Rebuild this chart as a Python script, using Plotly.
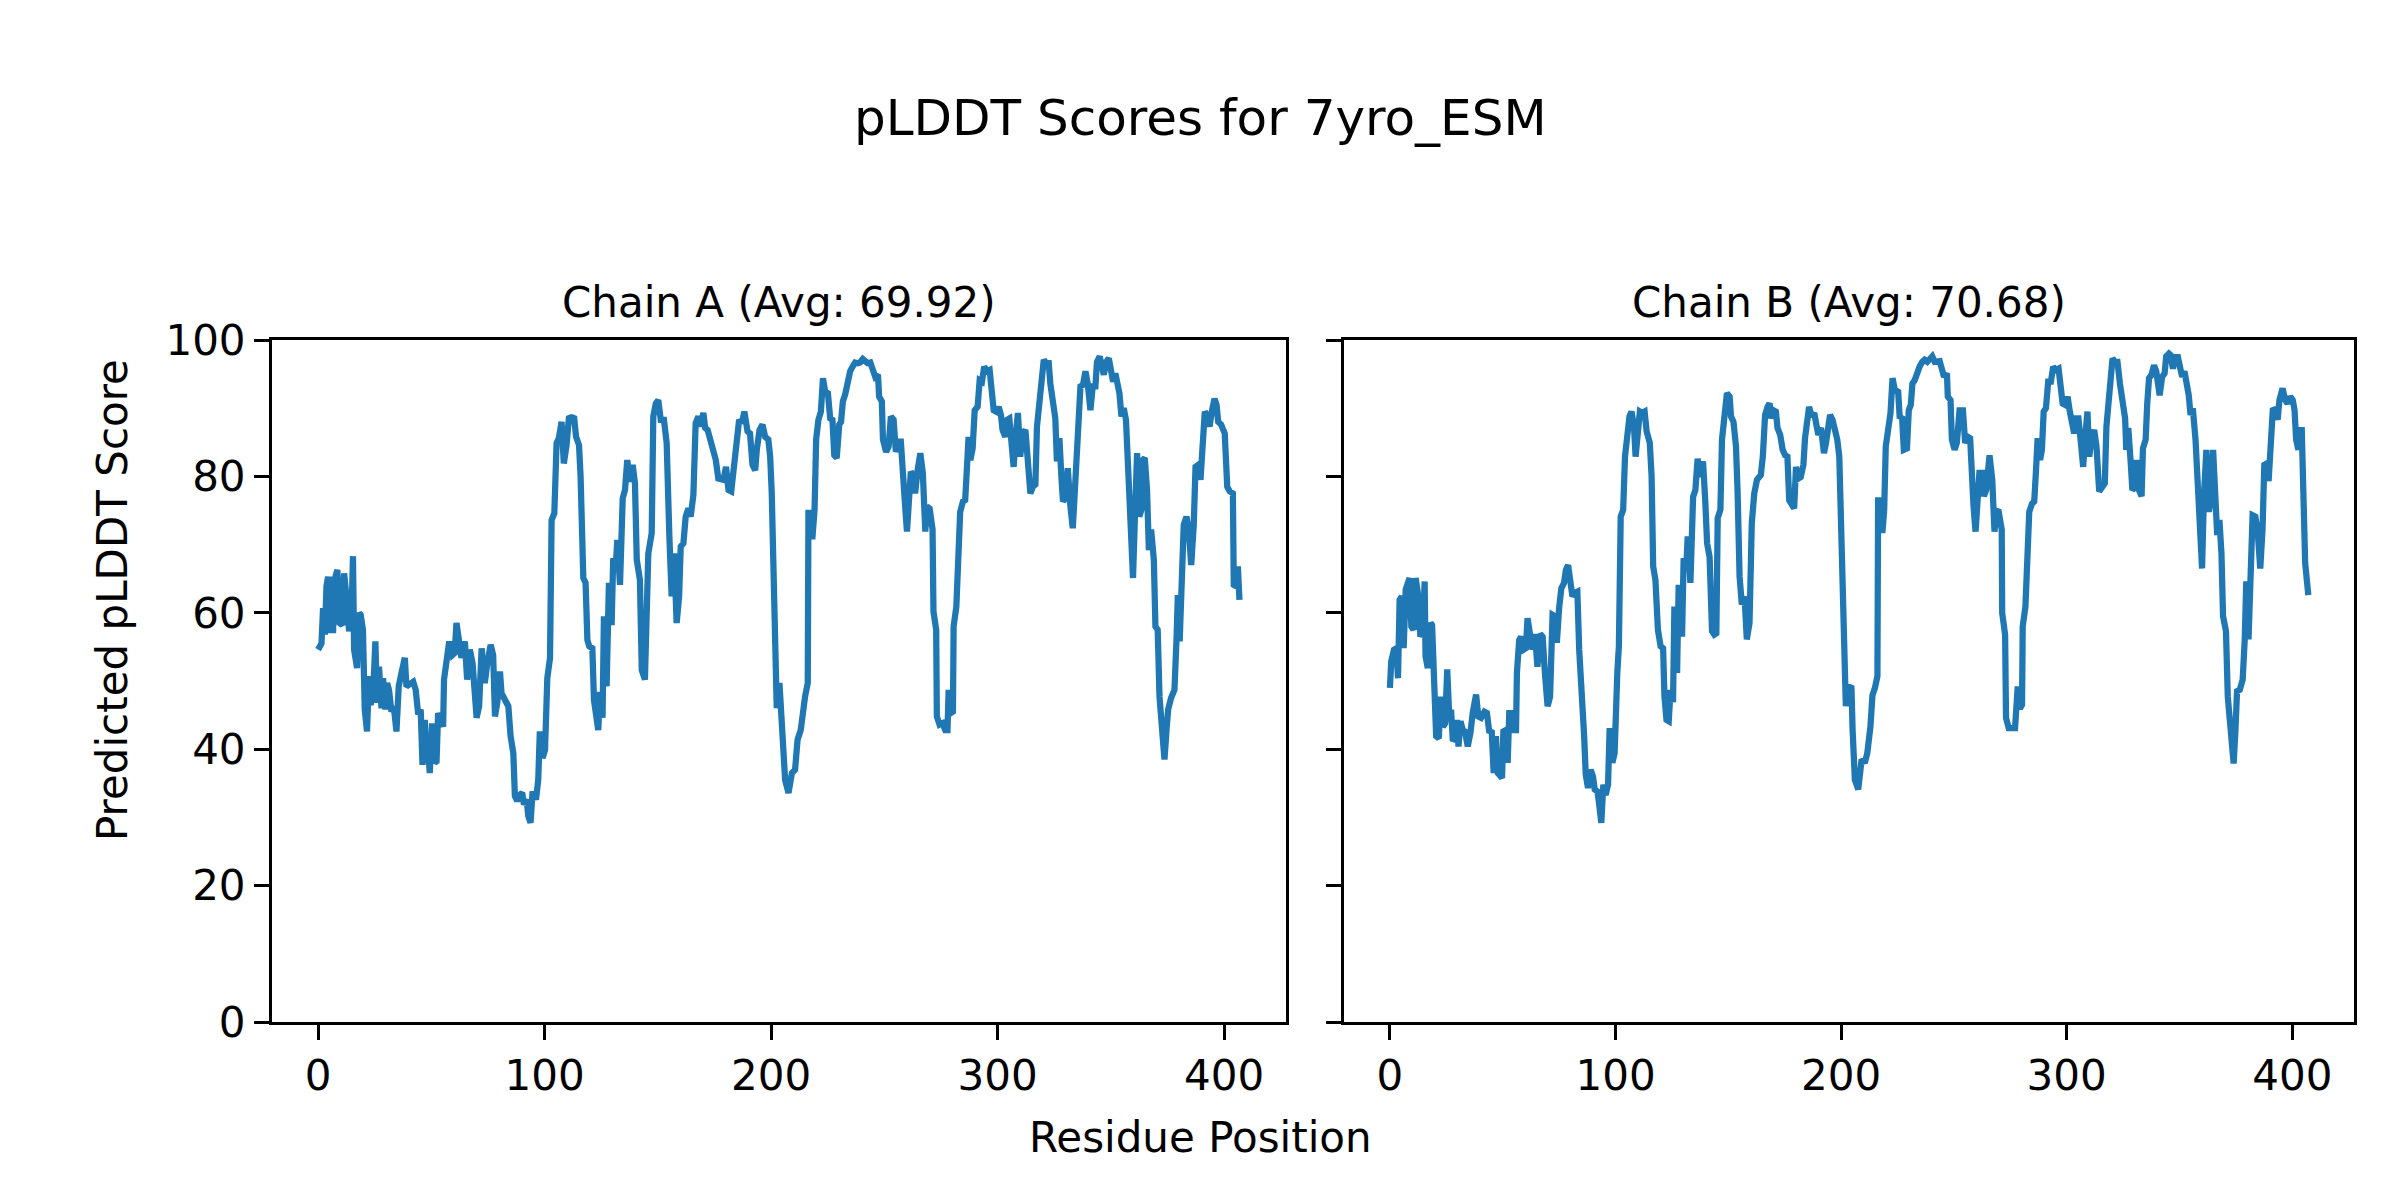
import plotly.graph_objects as go

# ---------------- data ----------------
chain_a_pos = [
    0.0, 1.5, 2.2, 3.0, 3.7, 4.4, 5.1, 5.9, 6.6, 7.3,
    8.5, 9.5, 10.7, 11.5, 12.5, 13.7, 14.7, 15.4, 15.9, 17.2,
    18.1, 18.8, 19.8, 20.6, 21.6, 22.5, 23.2, 24.3, 25.3, 26.0,
    26.9, 28.0, 28.7, 29.7, 30.5, 31.3, 32.4, 33.4, 34.6, 35.6,
    36.8, 38.3, 39.0, 40.5, 42.0, 43.1, 44.2, 45.3, 46.1, 47.1,
    47.8, 48.6, 49.3, 50.3, 51.5, 52.3, 53.0, 54.0, 55.2, 55.6,
    56.7, 57.9, 59.3, 60.3, 61.1, 62.3,
    63.3, 64.8, 65.8, 67.0, 68.2, 70.0, 71.1, 72.2, 73.6, 74.7,
    76.2, 77.3, 78.1, 79.1, 80.3, 81.0, 82.5, 84.0, 85.0, 86.2,
    86.9, 87.9, 89.1, 90.1, 90.9, 92.1, 92.8, 93.8, 94.7, 96.2,
    97.2, 97.9, 99.1, 100.2, 101.2, 102.4, 103.1, 104.3, 105.3, 106.3,
    107.5, 108.5, 109.7, 110.8, 111.9, 113.0, 113.9, 115.2, 115.9, 117.1,
    118.1, 118.9, 119.7, 121.1, 121.8, 122.7, 123.7, 124.5, 125.6, 126.2,
    127.4, 128.4, 129.6, 130.3, 131.5, 132.1,
    133.3, 134.5, 135.5, 136.5, 137.7, 138.9, 139.9, 140.7, 142.1, 142.9,
    144.3, 145.8, 147.3, 148.0, 149.1, 150.2, 151.3, 152.7, 153.9, 155.1,
    156.1, 157.2, 158.3, 159.4, 160.1, 161.3, 162.3, 163.5, 164.5, 165.7,
    166.7, 167.9, 168.9, 170.1, 170.9, 172.0, 173.1, 174.5, 175.6, 176.7,
    177.9, 179.0, 180.1, 181.2, 182.4, 183.4, 184.1, 184.8, 185.9, 187.1,
    188.2, 189.6, 190.7, 191.8, 193.0, 193.7, 194.9, 196.2, 197.4, 198.8,
    199.6, 200.3, 201.0, 201.8, 202.5, 203.7,
    205.2, 206.2, 207.7, 209.2, 210.6, 211.7, 213.1, 214.0, 215.0, 216.2,
    216.5, 217.3, 218.3, 219.2, 219.9, 220.9, 222.0, 222.9, 223.9, 225.1,
    226.1, 227.1, 227.9, 229.0, 230.1, 230.9, 231.7, 232.7, 233.9, 234.9,
    236.0, 237.1, 238.3, 239.3, 240.5, 241.6, 242.6, 243.8, 244.9, 246.0,
    247.2, 247.7, 248.9, 249.4, 250.8, 251.9, 252.9, 254.1, 255.1, 256.3,
    257.3, 258.2, 259.2, 260.0, 261.0, 261.7, 262.6, 263.6, 264.7, 265.9,
    267.0, 268.1, 268.8, 270.0, 271.3, 271.7, 272.9, 273.2, 274.4, 275.7,
    276.9, 277.9,
    278.4, 279.4, 280.3, 280.6, 281.8, 282.8, 283.5, 284.7, 285.7, 286.5,
    287.2, 288.0, 289.0, 289.9, 291.2, 292.1, 293.1, 294.1, 295.3, 296.5,
    297.2, 298.3, 299.4, 300.5, 301.5, 302.2, 303.4, 304.2, 305.2, 306.1,
    307.1, 308.1, 309.0, 310.0, 311.1, 312.3, 313.0, 313.7, 314.5, 315.6,
    316.7, 317.4, 318.4, 319.3, 320.4, 321.5, 322.6, 323.3, 324.5, 325.5,
    326.2, 327.3, 328.2, 328.9, 329.9, 331.0, 332.1, 333.2, 333.9, 334.8,
    335.8, 336.6, 337.7, 338.8, 339.8, 341.0, 342.0, 343.2, 343.9, 345.1,
    346.9, 348.0, 349.1, 350.1, 351.0, 352.0, 352.8, 353.8, 354.7, 355.7,
    356.7, 357.9, 358.9, 359.8, 360.6, 361.6, 362.6, 363.5, 364.1, 365.0,
    366.0, 366.8, 367.8, 369.0, 369.7, 370.7, 371.5, 372.6, 373.7, 374.6,
    375.3, 376.6, 378.1, 379.0, 379.6, 380.4, 381.5, 382.2, 383.4, 384.4,
    385.5, 386.6, 387.4, 388.6, 389.6, 390.6, 391.5, 392.5, 393.6, 394.7,
    395.8, 396.7, 397.4, 398.7, 400.3, 401.4, 402.5, 403.9, 404.3, 405.4,
    406.1, 406.8,
]
chain_a_plddt = [
    54.6, 55.5, 60.7, 56.8, 63.9, 65.3, 57.0, 65.3, 57.0, 64.8,
    66.3, 58.5, 58.2, 65.8, 62.4, 57.3, 59.0, 68.3, 54.6, 51.9,
    60.0, 59.7, 57.5, 45.8, 42.6, 50.7, 46.5, 48.2, 55.8, 46.8,
    52.1, 46.0, 50.4, 45.8, 49.7, 48.7, 45.5, 46.3, 42.6, 49.2,
    51.2, 53.4, 49.2, 49.7, 49.9, 48.7, 45.1, 45.8, 37.7, 44.3,
    38.0, 39.9, 36.5, 43.8, 38.0, 38.2, 45.3, 44.3, 43.3, 50.2,
    52.6, 55.8, 53.8, 54.1, 58.5, 56.3,
    53.4, 55.8, 50.2, 54.6, 52.6, 44.6, 46.3, 54.8, 49.7, 52.6,
    55.3, 53.8, 44.8, 46.8, 51.4, 48.2, 47.2, 46.3, 41.9, 39.4,
    33.1, 32.4, 33.3, 33.6, 31.9, 32.6, 30.2, 29.2, 33.8, 32.6,
    35.5, 42.6, 38.7, 39.9, 50.4, 53.4, 73.6, 74.6, 84.9, 85.6,
    88.0, 81.9, 84.6, 88.8, 88.5, 88.8, 85.8, 84.6, 80.0, 65.1,
    64.4, 56.0, 55.1, 54.8, 47.2, 44.1, 42.8, 48.4, 44.6, 59.5,
    49.2, 64.4, 58.2, 68.0, 67.3, 70.7,
    64.1, 76.8, 78.0, 82.4, 79.2, 81.7, 79.0, 67.8, 64.8, 51.6,
    50.2, 68.7, 71.7, 88.8, 90.7, 91.2, 88.3, 88.3, 84.9, 71.2,
    62.4, 68.7, 58.5, 62.4, 69.7, 70.2, 74.1, 75.3, 74.1, 77.3,
    87.8, 88.8, 87.3, 89.3, 87.1, 86.8, 85.3, 83.1, 82.4, 79.7,
    79.7, 79.5, 81.4, 78.0, 77.8, 80.5, 84.1, 84.9, 88.3, 87.8,
    89.5, 86.6, 86.3, 81.7, 80.9, 83.9, 86.8, 87.6, 85.8, 85.4,
    82.9, 77.5, 69.7, 57.5, 46.0, 49.7,
    42.8, 35.5, 33.6, 36.5, 37.0, 41.4, 42.8, 46.3, 47.7, 49.7,
    75.1, 71.2, 71.2, 75.1, 85.4, 88.3, 89.5, 94.4, 92.4, 92.2,
    88.5, 88.3, 83.1, 82.7, 87.6, 88.0, 91.0, 92.0, 94.4, 95.4,
    96.1, 96.7, 96.6, 96.7, 97.2, 96.8, 96.6, 96.7, 95.4, 94.6,
    94.9, 91.7, 91.0, 85.4, 83.6, 84.4, 88.8, 88.3, 83.6, 85.1,
    85.1, 79.0, 75.6, 71.9, 77.5, 80.7, 80.2, 77.5, 80.9, 83.4,
    80.5, 71.9, 75.6, 75.3, 72.2, 60.2, 57.5, 44.8, 43.6, 43.8,
    42.8, 42.8,
    48.7, 45.3, 45.5, 58.0, 60.9, 70.2, 74.8, 76.3, 76.5, 81.4,
    85.8, 82.4, 84.1, 89.7, 90.2, 94.1, 93.9, 96.1, 95.4, 95.6,
    92.9, 89.7, 89.5, 90.2, 89.0, 86.8, 85.8, 88.3, 88.5, 84.9,
    81.4, 86.3, 89.3, 82.9, 86.3, 86.8, 84.4, 80.5, 77.5, 78.5,
    78.8, 87.3, 91.2, 94.6, 97.1, 96.6, 96.6, 93.6, 90.2, 88.5,
    82.2, 85.6, 79.8, 76.3, 76.8, 81.2, 75.8, 72.4, 76.5, 83.4,
    89.3, 93.2, 93.4, 95.4, 93.6, 89.7, 93.2, 93.2, 96.8, 97.6,
    94.9, 96.8, 97.3, 95.6, 93.9, 95.1, 94.1, 92.2, 88.8, 90.0,
    88.3, 80.5, 72.2, 65.1, 73.6, 83.4, 74.1, 75.1, 82.4, 82.7,
    78.0, 69.2, 72.2, 67.8, 58.0, 57.5, 47.7, 43.3, 38.5, 42.8,
    45.8, 47.5, 48.7, 56.0, 62.6, 55.8, 63.4, 72.9, 74.1, 72.2,
    67.0, 72.7, 81.4, 81.7, 79.5, 83.9, 89.5, 89.0, 87.3, 89.7,
    91.4, 90.5, 88.0, 87.6, 86.3, 78.5, 77.8, 77.5, 64.1, 63.9,
    66.8, 61.9,
]

chain_b_pos = [
    0.0, 0.6, 1.8, 2.8, 3.6, 4.3, 5.3, 6.1, 7.0, 8.0,
    8.7, 9.5, 10.5, 11.4, 12.4, 13.5, 14.6, 15.4, 15.8, 16.8,
    18.0, 18.7, 19.8, 20.5, 21.7, 22.4, 23.5, 24.5, 25.4, 26.4,
    27.1, 27.9, 28.9, 29.8, 30.4, 31.3, 32.3, 33.3, 34.5, 35.7,
    36.7, 38.2, 39.2, 40.4, 41.9, 43.0, 44.1, 45.1, 46.0, 47.0,
    47.8, 49.0, 49.7, 50.3, 51.4, 52.2, 52.9, 54.0, 54.8, 55.9,
    56.3, 57.3, 58.1, 59.3, 60.3, 61.0, 62.2,
    63.2, 64.3, 65.4, 66.6, 67.7, 68.7, 69.9, 71.0, 72.1, 73.1,
    74.0, 75.0, 76.0, 77.2, 78.0, 79.0, 79.9, 80.9, 81.9, 83.1,
    83.9, 84.9, 86.1, 86.8, 87.8, 89.0, 90.0, 90.8, 92.0, 92.7,
    93.7, 94.6, 95.6, 96.7, 97.4, 98.6, 99.6, 100.8, 101.5, 102.3,
    103.4, 104.2, 105.2, 106.2, 107.1, 108.2, 108.9, 109.9, 110.8, 111.8,
    112.9, 113.8, 115.2, 116.0, 116.7, 117.7, 118.8, 120.0, 121.1, 121.7,
    122.6, 123.6, 124.4, 125.5, 126.1, 127.3, 128.0, 129.5, 130.2, 131.4,
    132.0,
    133.2, 134.4, 135.4, 136.4, 137.6, 138.8, 139.8, 140.6, 141.7, 142.8,
    143.8, 144.7, 145.3, 146.5, 147.2, 148.4, 149.4, 150.6, 151.2, 152.3,
    153.4, 154.1, 155.0, 156.0, 157.2, 158.2, 159.4, 160.4, 161.5, 162.7,
    163.4, 164.4, 165.3, 166.3, 167.4, 168.3, 169.0, 170.0, 171.1, 171.8,
    173.0, 174.1, 175.2, 176.2, 177.0, 178.1, 179.2, 180.0, 181.1, 182.1,
    183.3, 184.0, 184.7, 185.8, 186.9, 188.1, 189.2, 189.9, 191.1, 191.8,
    192.4, 193.3, 194.0, 195.1, 196.2, 197.3, 198.3, 199.2, 200.2, 201.2,
    202.1, 203.2, 204.6,
    205.1, 206.1, 207.6, 209.1, 210.5, 211.6, 213.0, 213.9, 215.0, 216.1,
    216.4, 217.5, 218.3, 219.1, 219.8, 220.8, 221.9, 222.8, 223.8, 225.3,
    226.0, 227.0, 227.8, 229.2, 230.0, 230.9, 231.6, 232.6, 233.8, 234.8,
    236.0, 237.0, 238.2, 239.2, 240.4, 241.5, 242.5, 243.7, 244.8, 245.6,
    246.9, 247.3, 248.5, 249.1, 250.3, 251.3, 252.5, 254.0, 255.0, 256.2,
    257.2, 257.7, 258.7, 259.6, 260.3, 261.3, 262.5, 263.3, 264.3, 265.0,
    265.8, 267.0, 268.0, 268.7, 269.7, 271.2, 271.4, 272.7, 273.1, 274.3,
    275.6, 277.1,
    278.3, 279.3, 280.2, 280.5, 281.7, 282.7, 283.4, 284.6, 285.6, 286.4,
    287.1, 288.2, 289.0, 289.8, 290.8, 291.8, 293.0, 294.0, 295.2, 296.4,
    297.4, 298.2, 299.3, 300.4, 301.4, 302.3, 303.3, 304.1, 305.2, 306.3,
    307.3, 308.2, 309.2, 310.0, 311.1, 312.2, 313.2, 314.4, 315.5, 316.9,
    317.6, 318.8, 319.5, 320.3, 321.4, 322.5, 323.6, 324.7, 325.9, 326.4,
    327.3, 328.4, 329.1, 330.1, 331.0, 332.0, 333.2, 333.8, 335.0, 335.7,
    336.5, 337.6, 338.7, 339.7, 341.2, 342.3, 343.4, 344.1, 345.3,
    346.0, 347.1, 348.2, 349.3, 350.5, 351.2, 352.2, 353.1, 354.1, 354.9,
    355.9, 357.1, 358.1, 359.0, 360.0, 360.8, 361.9, 363.0, 364.0, 364.9,
    365.9, 366.7, 367.7, 368.6, 369.3, 370.6, 371.4, 372.5, 374.0, 374.8,
    375.5, 376.7, 378.0, 378.9, 379.6, 380.6, 381.7, 382.4, 383.6, 384.6,
    385.8, 386.8, 387.6, 388.7, 389.5, 390.5, 391.4, 392.4, 393.5, 394.3,
    395.7, 396.8, 397.9, 399.1, 400.2, 401.0, 401.7, 402.7, 403.2, 404.2,
    404.9, 405.7, 407.1,
]
chain_b_plddt = [
    49.0, 52.9, 54.6, 54.8, 50.4, 61.9, 62.4, 54.8, 63.4, 65.1,
    65.1, 58.0, 57.5, 65.1, 62.9, 56.5, 57.3, 64.6, 53.6, 51.9,
    58.5, 58.2, 47.7, 41.9, 41.6, 47.7, 43.3, 43.8, 51.7, 44.1,
    45.8, 41.2, 41.6, 44.3, 40.4, 44.1, 42.8, 42.6, 40.4, 42.4,
    45.3, 48.0, 44.8, 44.6, 45.5, 45.3, 42.4, 42.8, 36.5, 41.9,
    36.5, 36.0, 35.8, 42.6, 42.8, 38.0, 45.3, 45.3, 42.8, 42.8,
    51.2, 56.0, 56.5, 54.6, 54.8, 59.2, 57.3,
    54.6, 56.9, 52.1, 56.9, 56.5, 51.2, 46.3, 47.7, 59.7, 59.5,
    55.6, 60.7, 63.6, 64.4, 66.3, 67.0, 65.1, 62.4, 62.9, 63.1,
    54.6, 50.2, 41.9, 36.3, 34.3, 37.0, 36.0, 34.1, 33.8, 32.1,
    29.2, 34.8, 33.3, 34.8, 43.1, 38.0, 39.4, 51.2, 55.1, 74.1,
    75.1, 82.9, 86.3, 88.8, 89.5, 87.3, 82.9, 85.8, 89.5, 89.3,
    89.5, 86.6, 84.9, 80.0, 66.8, 64.8, 57.5, 55.1, 54.8, 47.7,
    44.3, 44.1, 48.7, 46.9, 60.9, 51.2, 64.1, 56.5, 68.0, 66.8,
    71.2,
    64.4, 77.0, 78.0, 82.6, 79.9, 82.2, 76.3, 70.2, 68.2, 57.3,
    56.8, 57.0, 73.9, 75.1, 85.4, 89.7, 92.2, 91.7, 88.8, 88.0,
    84.4, 78.0, 65.3, 61.2, 62.4, 56.1, 58.5, 73.1, 77.5, 79.5,
    80.0, 80.2, 82.9, 89.0, 90.2, 90.7, 88.5, 89.7, 89.5, 87.1,
    86.1, 83.9, 83.1, 82.9, 76.5, 75.6, 75.3, 81.4, 79.7, 79.9,
    81.7, 85.6, 87.6, 90.2, 88.8, 89.3, 87.3, 86.1, 87.1, 83.6,
    83.4, 84.9, 87.3, 89.0, 88.3, 86.6, 85.4, 82.9, 72.2, 60.0,
    46.3, 49.2, 49.0,
    42.8, 35.5, 34.1, 38.5, 38.0, 39.4, 43.3, 47.9, 49.0, 50.7,
    76.5, 76.5, 71.7, 75.1, 84.4, 87.3, 89.3, 94.4, 92.7, 92.4,
    88.5, 88.8, 83.9, 84.1, 89.7, 90.5, 93.6, 94.1, 95.4, 96.1,
    96.8, 97.1, 96.8, 97.2, 97.6, 96.8, 96.8, 96.9, 95.6, 94.6,
    95.1, 91.7, 91.2, 85.4, 83.9, 84.9, 89.7, 89.7, 84.9, 85.8,
    85.6, 79.5, 75.6, 71.9, 76.0, 80.5, 80.5, 77.1, 78.0, 81.4,
    83.1, 79.5, 71.9, 74.8, 75.1, 72.2, 60.0, 56.8, 44.6, 43.1,
    43.1, 43.1,
    49.2, 46.0, 46.5, 58.0, 60.9, 70.7, 74.8, 76.0, 76.3, 80.9,
    85.6, 82.4, 83.9, 89.5, 90.0, 93.9, 93.9, 96.1, 95.6, 95.8,
    92.9, 90.7, 90.5, 91.7, 89.5, 87.3, 86.3, 88.5, 88.5, 84.9,
    81.4, 85.8, 89.5, 82.9, 85.8, 86.8, 84.4, 77.8, 78.5, 79.0,
    87.3, 92.2, 95.1, 97.3, 96.8, 96.8, 93.6, 91.0, 88.5, 83.9,
    87.1, 81.9, 78.0, 78.3, 82.4, 78.0, 77.1, 84.1, 85.4, 90.7,
    94.4, 94.9, 96.3, 95.4, 91.9, 94.6, 95.1, 97.6, 98.0,
    97.8, 95.8, 97.5, 97.5, 95.6, 94.6, 95.4, 94.1, 91.9, 89.0,
    90.0, 85.4, 79.5, 73.1, 66.5, 76.8, 83.9, 74.8, 77.0, 83.9,
    78.5, 71.4, 73.6, 68.7, 59.5, 57.3, 47.7, 43.8, 37.9, 42.8,
    48.5, 48.7, 50.2, 56.0, 64.6, 56.1, 66.3, 74.3, 74.1, 72.2,
    66.5, 72.2, 81.7, 81.9, 79.3, 84.1, 90.0, 89.7, 88.3, 91.2,
    92.9, 91.2, 90.7, 91.7, 91.2, 89.7, 85.4, 83.9, 86.8, 86.8,
    76.0, 67.3, 62.6,
]

panel_titles = ["Chain A (Avg: 69.92)", "Chain B (Avg: 70.68)"]
main_title = "pLDDT Scores for 7yro_ESM"
x_label = "Residue Position"
y_label = "Predicted pLDDT Score"
x_ticks = [0, 100, 200, 300, 400]
y_ticks = [0, 20, 40, 60, 80, 100]

assert len(chain_a_pos) == len(chain_a_plddt), (len(chain_a_pos), len(chain_a_plddt))
assert len(chain_b_pos) == len(chain_b_plddt), (len(chain_b_pos), len(chain_b_plddt))

# ---------------- figure ----------------
W, H = 2400, 1200
OFF = 8  # compensate for the page's default body margin
FONT = "DejaVu Sans"
LINE_COLOR = "#1f77b4"


def px_x(px):
    return (px - OFF) / W


def px_y(py):
    return 1 - (py - OFF) / H


fig = go.Figure()
fig.add_trace(go.Scatter(x=chain_a_pos, y=chain_a_plddt, mode="lines",
                         line=dict(color=LINE_COLOR, width=6.25), xaxis="x", yaxis="y",
                         showlegend=False, hoverinfo="skip"))
fig.add_trace(go.Scatter(x=chain_b_pos, y=chain_b_plddt, mode="lines",
                         line=dict(color=LINE_COLOR, width=6.25), xaxis="x2", yaxis="y2",
                         showlegend=False, hoverinfo="skip"))

y_dom = [px_y(1022), px_y(340)]
xa_dom = [px_x(272), px_x(1286)]
xb_dom = [px_x(1344), px_x(2354)]

common_axis = dict(showline=True, mirror=True, linecolor="black", linewidth=3,
                   ticks="outside", ticklen=15, tickwidth=3, tickcolor="black",
                   showgrid=False, zeroline=False, automargin=False,
                   tickfont=dict(family=FONT, size=42, color="black"))
x_rng = [-20.35, 427.35]

fig.update_layout(
    template="none",
    width=W, height=H,
    margin=dict(l=0, r=0, t=0, b=0, pad=0, autoexpand=False),
    paper_bgcolor="white", plot_bgcolor="white",
    showlegend=False,
    xaxis=dict(domain=xa_dom, anchor="y", range=x_rng, tickvals=x_ticks, **common_axis),
    yaxis=dict(domain=y_dom, anchor="x", range=[0, 100], tickvals=y_ticks, **common_axis),
    xaxis2=dict(domain=xb_dom, anchor="y2", range=x_rng, tickvals=x_ticks, **common_axis),
    yaxis2=dict(domain=y_dom, anchor="x2", range=[0, 100], tickvals=y_ticks,
                showticklabels=False, **common_axis),
)

ann_font = dict(family=FONT, size=42, color="black")
annotations = [
    dict(text=main_title, x=px_x(1200), y=px_y(118), xref="paper", yref="paper",
         showarrow=False, xanchor="center", yanchor="middle",
         font=dict(family=FONT, size=50, color="black")),
    dict(text=panel_titles[0], x=(xa_dom[0] + xa_dom[1]) / 2, y=px_y(302),
         xref="paper", yref="paper", showarrow=False, xanchor="center",
         yanchor="middle", font=ann_font),
    dict(text=panel_titles[1], x=(xb_dom[0] + xb_dom[1]) / 2, y=px_y(302),
         xref="paper", yref="paper", showarrow=False, xanchor="center",
         yanchor="middle", font=ann_font),
    dict(text=x_label, x=px_x(1200), y=px_y(1137), xref="paper", yref="paper",
         showarrow=False, xanchor="center", yanchor="middle", font=ann_font),
    dict(text=y_label, x=px_x(112), y=px_y(600), xref="paper", yref="paper",
         showarrow=False, xanchor="center", yanchor="middle", textangle=-90,
         font=ann_font),
]
fig.update_layout(annotations=annotations)

fig.write_html("out.html", config={"displayModeBar": False})
